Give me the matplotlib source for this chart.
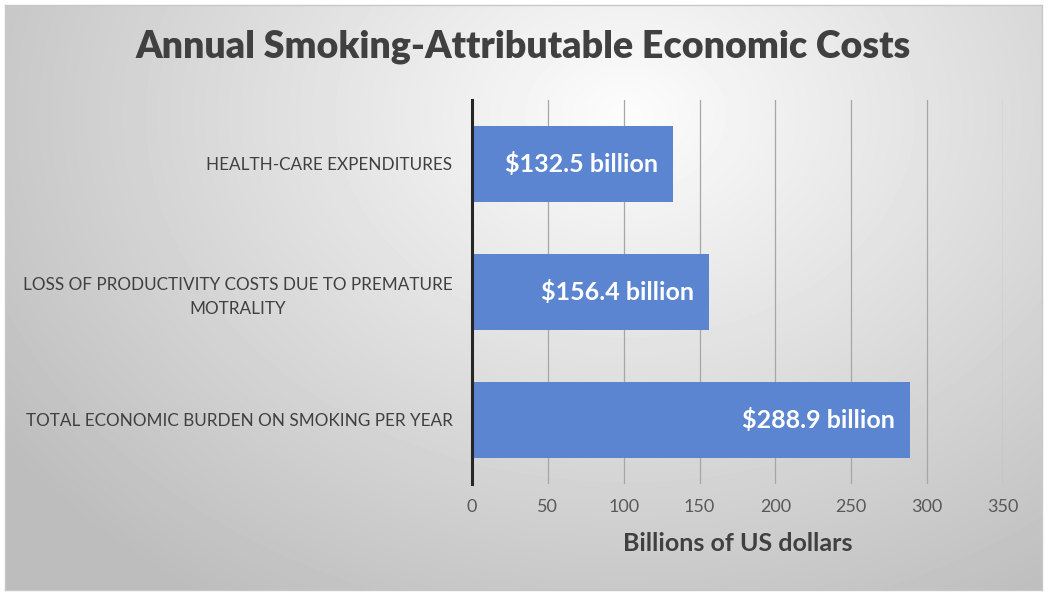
import numpy as np
import matplotlib
matplotlib.use("Agg")
import matplotlib.pyplot as plt

categories = ["HEALTH-CARE EXPENDITURES",
              "LOSS OF PRODUCTIVITY COSTS DUE TO PREMATURE\nMOTRALITY",
              "TOTAL ECONOMIC BURDEN ON SMOKING PER YEAR"]
values = [132.5, 156.4, 288.9]
labels = ["$132.5 billion", "$156.4 billion", "$288.9 billion"]
xticks = [0, 50, 100, 150, 200, 250, 300, 350]

plt.rcParams['font.family'] = ['Lato', 'DejaVu Sans']

fig = plt.figure(figsize=(10.5, 5.95), dpi=100)
W, H = 1050, 595

# gradient background inside the frame
bg = fig.add_axes([5 / W, 1 - 590 / H, 1037 / W, 585 / H], zorder=-10)
yy, xx = np.mgrid[0:585, 0:1037]
d = np.sqrt(((xx - 620) / 850.0) ** 2 + ((yy - 110) / 650.0) ** 2)
shade = np.clip(0.99 - 0.28 * d, 0.74, 0.99)
bg.imshow(shade, cmap="gray", vmin=0, vmax=1, aspect="auto", interpolation="bilinear")
bg.set_xticks([])
bg.set_yticks([])
for s in bg.spines.values():
    s.set_color("#c8c8c8")
    s.set_linewidth(1.0)

ax = fig.add_axes([472 / W, 1 - 484 / H, (1003 - 472) / W, 384 / H])
ax.patch.set_alpha(0)
y = np.arange(len(categories))
ax.barh(y, values, height=0.59, color="#5b85d0", zorder=3)
ax.set_ylim(2.5, -0.5)
ax.set_xlim(0, 350)
ax.set_xticks(xticks)
ax.set_xticklabels([str(t) for t in xticks], fontsize=13, color="#595959")
ax.set_yticks(y)
ax.set_yticklabels(categories, fontsize=12.3, color="#404040", ha="right",
                   multialignment="center", linespacing=1.6)
ax.tick_params(axis="y", length=0, pad=14)
ax.tick_params(axis="x", length=0, pad=11)
ax.grid(axis="x", color="#a6a6a6", linewidth=0.9, zorder=0)
for s in ["top", "right", "bottom"]:
    ax.spines[s].set_visible(False)
ax.spines["left"].set_color("#262626")
ax.spines["left"].set_linewidth(2.2)
ax.spines["left"].set_zorder(5)

for yi, v, lab in zip(y, values, labels):
    ax.text(v - 10, yi, lab, ha="right", va="center", color="white",
            fontsize=18, fontweight="bold", zorder=4)

ax.set_xlabel("Billions of US dollars", fontsize=18, fontweight="bold",
              color="#404040", labelpad=12)
fig.text(523 / W, 1 - 47 / H, "Annual Smoking-Attributable Economic Costs",
         ha="center", va="center", fontsize=27, fontweight="heavy", color="#404040")

fig.savefig("out.png", dpi=100)
